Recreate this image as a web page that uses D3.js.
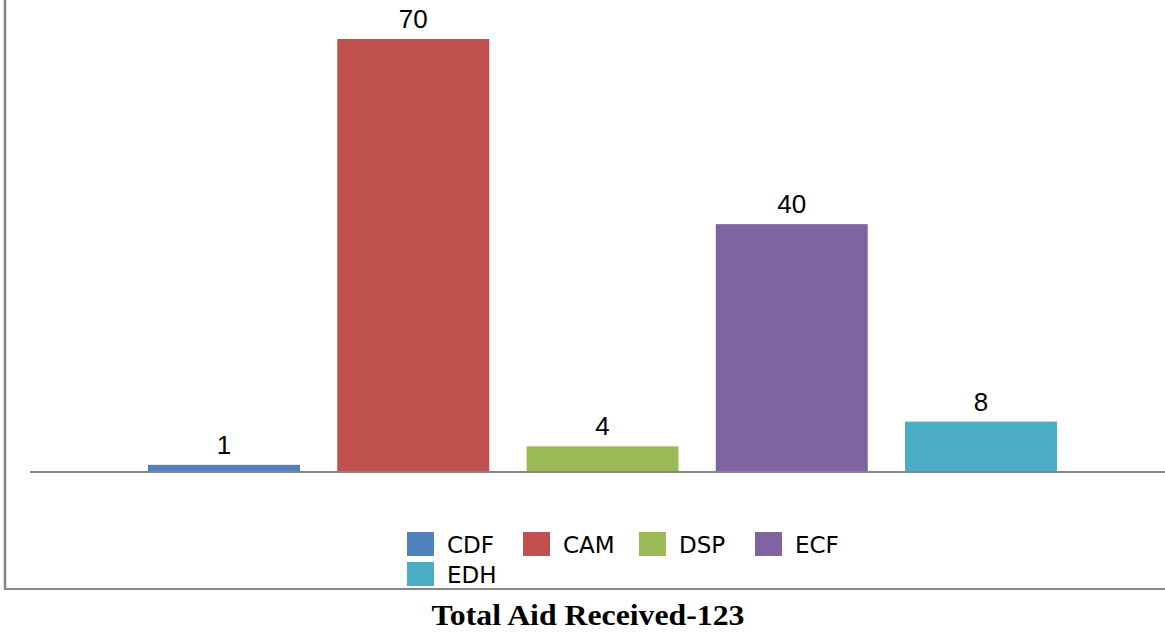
<!DOCTYPE html>
<html>
<head>
<meta charset="utf-8">
<title>Total Aid Received</title>
<style>
  body { margin: 0; background: #fff; }
  svg { display: block; }
</style>
</head>
<body>
<svg id="chart" width="1165" height="635"></svg>
<script src="https://d3js.org/d3.v7.min.js"></script>
<script>
// data
var series = ["CDF", "CAM", "DSP", "ECF", "EDH"];
var values = [1, 70, 4, 40, 8];
var colors = ["#4f81bd", "#c0504d", "#9bbb59", "#8064a2", "#4bacc6"];
var title = "Total Aid Received-123";

var svg = d3.select("#chart");

// plot area
var x = d3.scaleBand().domain(series).range([148, 1057]).paddingInner(0.197).paddingOuter(0);
var y = d3.scaleLinear().domain([0, 70]).range([471, 39]);

// outer frame (left + bottom visible)
svg.append("line")
    .attr("x1", 5).attr("x2", 5).attr("y1", 0).attr("y2", 589)
    .attr("stroke", "#868686").attr("stroke-width", 2.5);
svg.append("line")
    .attr("x1", 4).attr("x2", 1165).attr("y1", 589).attr("y2", 589)
    .attr("stroke", "#868686").attr("stroke-width", 2);

// bars
svg.append("g").selectAll("rect")
    .data(series)
    .enter().append("rect")
    .attr("x", function(d) { return x(d); })
    .attr("width", x.bandwidth())
    .attr("y", function(d, i) { return y(values[i]); })
    .attr("height", function(d, i) { return y(0) - y(values[i]); })
    .attr("fill", function(d, i) { return colors[i]; });

// category axis line
svg.append("line")
    .attr("x1", 30).attr("x2", 1165)
    .attr("y1", 472).attr("y2", 472)
    .attr("stroke", "#858585").attr("stroke-width", 2);

// value labels
svg.append("g").selectAll("text")
    .data(series)
    .enter().append("text")
    .attr("x", function(d) { return x(d) + x.bandwidth() / 2; })
    .attr("y", function(d, i) { return y(values[i]) - 11; })
    .attr("text-anchor", "middle")
    .style("font-family", "'Liberation Sans', Arial, sans-serif")
    .style("font-size", "26px")
    .style("fill", "#000")
    .text(function(d, i) { return values[i]; });

// legend, 4 per row
var legend = svg.append("g").selectAll("g")
    .data(series)
    .enter().append("g")
    .attr("transform", function(d, i) {
        return "translate(" + (407 + (i % 4) * 116) + "," + (532 + Math.floor(i / 4) * 30) + ")";
    });
legend.append("rect")
    .attr("width", 27).attr("height", 24)
    .attr("fill", function(d, i) { return colors[i]; });
legend.append("text")
    .attr("x", 40).attr("y", 21)
    .style("font-family", "'DejaVu Sans', Verdana, sans-serif")
    .style("font-size", "23px")
    .style("fill", "#000")
    .text(function(d) { return d; });

// title under the frame
svg.append("text")
    .attr("x", 588).attr("y", 625)
    .attr("text-anchor", "middle")
    .attr("textLength", 313).attr("lengthAdjust", "spacingAndGlyphs")
    .style("font-family", "'Liberation Serif', 'Times New Roman', serif")
    .style("font-weight", "bold")
    .style("font-size", "29px")
    .style("fill", "#000")
    .text(title);
</script>
</body>
</html>
